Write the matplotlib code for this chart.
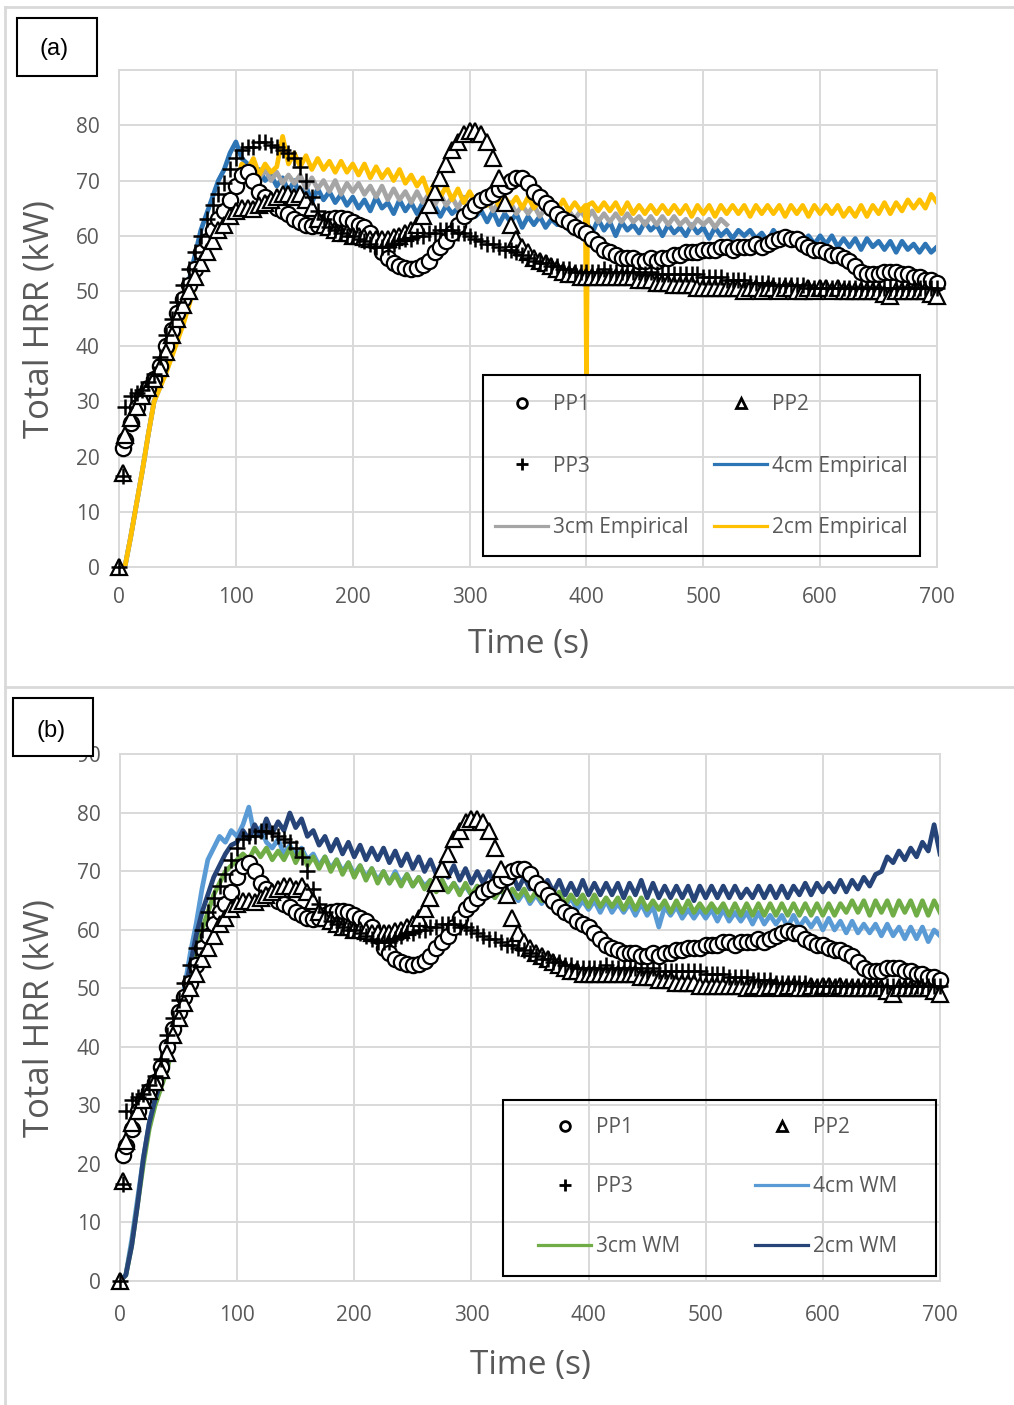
import numpy as np
import matplotlib
matplotlib.use('Agg')
import matplotlib.pyplot as plt
from matplotlib.lines import Line2D
from matplotlib.patches import Rectangle

nan = np.nan

# time axes (s)
t_pp = [0, 3] + list(range(5, 705, 5))
t_line = list(range(0, 705, 5))
t_gray = list(range(0, 525, 5))
t_yellow = list(range(0, 400, 5)) + [399, 400, 401] + list(range(405, 705, 5))

# measured HRR (kW), same in both panels
pp1 = [nan, 21.5,
       23, 26, 29, 31, 32.5, 34, 36.5, 40, 43, 46,
       48.5, 51, 54, 57, 59, 61, 63, 64.5, 66.5, 69,
       71, 71.5, 70, 68, 67, 66, 65, 64.5, 64, 63,
       62.5, 62, 61.8, 62, 62.5, 63, 63.3, 63.3, 63, 62.5,
       62, 61.5, 60.5, 59, 57, 56, 55, 54.5, 54.2, 54,
       54.2, 54.7, 55.5, 57, 58, 59, 60.5, 62, 63.5, 64.5,
       65.5, 66.5, 67, 67.5, 68.5, 69, 70, 70.5, 70.5, 69.5,
       68, 67, 66, 65, 64, 63, 62.5, 61.5, 61, 60.5,
       59.5, 58.5, 57.5, 57, 56.5, 56, 56, 56, 55.5, 55.5,
       56, 55.5, 56, 56, 56.5, 56.5, 57, 57, 57, 57.5,
       57.5, 57.5, 58, 58, 57.5, 58, 58, 58, 58.5, 58,
       58.5, 59, 59.5, 59.8, 59.5, 59.5, 58.5, 58, 57.5, 57.5,
       57, 56.5, 56.5, 56, 55.5, 54.5, 53.5, 53, 53, 53,
       53.5, 53.5, 53.5, 53, 53, 52.5, 52.5, 52, 52, 51.5]
pp2 = [0, 17,
       24, 27, 29, 31, 32.5, 34, 36, 39, 42, 45,
       47.5, 50, 52.5, 55, 57, 59, 61, 62, 63.5, 64.5,
       65, 65, 64.8, 65.5, 66, 66.5, 67, 67.5, 67.5, 67,
       67.5, 66.5, 65, 63, 62, 61.5, 61, 60.5, 60.5, 60,
       60, 59.8, 59.5, 59.5, 59.5, 59.5, 59.8, 60, 60.5, 61,
       62, 63.5, 65.5, 68, 70.5, 73, 75.5, 77, 78.5, 79,
       79, 78.5, 77, 74, 70.5, 66, 62, 59.5, 58, 57,
       56, 55.5, 55, 54.5, 54, 53.5, 53, 53, 52.5, 52.5,
       52.5, 52.5, 52.5, 52.5, 52.5, 52.5, 52.5, 52.5, 52, 52,
       52, 51.5, 51.5, 51.5, 51, 51, 51, 51, 50.5, 50.5,
       50.5, 50.5, 50.5, 50.5, 50.5, 50.5, 50, 50.5, 50.5, 50,
       50.5, 50.5, 50, 50.5, 50.5, 50, 50, 50.5, 50, 50.5,
       50.5, 50, 50.5, 50, 50, 50, 50, 50, 50, 50,
       49.5, 49, 50, 50, 50, 50, 50, 50, 49.5, 49]
pp3 = [0, 16.5,
       29, 31, 31.5, 32, 33.5, 35, 38, 42, 45, 48,
       51, 54, 57, 60, 63, 65.5, 67.5, 69.5, 72, 74,
       75.5, 76, 76, 77, 77, 76.5, 76, 75.5, 75, 74,
       72.5, 70, 67, 64.5, 63, 61.5, 61, 60.5, 60, 60,
       59.5, 59, 58.5, 58, 58, 58, 58.5, 59, 59.5, 59.5,
       60, 60, 60.5, 60.5, 61, 61, 61, 60.5, 60.5, 60,
       59.5, 59, 58.5, 58.5, 58, 57.5, 57.5, 57, 56.5, 56,
       55.5, 55, 55, 54.5, 54.5, 54, 54, 53.5, 53.5, 53.5,
       53.5, 53.5, 54, 53.5, 53.5, 53.5, 53.5, 53.5, 53.5, 53,
       53.5, 53, 53, 53, 53, 53, 53, 53, 53, 52.5,
       52.5, 52.5, 52.5, 52, 52, 52, 52, 51.5, 51.5, 51.5,
       51.5, 51, 51, 51, 51, 51, 51, 50.5, 50.5, 50.5,
       50.5, 50.5, 50.5, 50.5, 50.5, 50.5, 50.5, 50.5, 50.5, 50.5,
       50.5, 50.5, 50.5, 50.5, 50.5, 50.5, 50.5, 50.5, 50.5, 50.5]

# (a) empirical models
emp4 = [0, 0, 5.5, 11.5, 17.5, 24, 30, 33, 36, 39.5,
        44, 48, 52, 56.5, 61, 64, 67, 70, 72, 75,
        77, 74, 73, 71, 72, 70, 71, 69, 70.5, 68,
        70, 67, 69, 66, 68.5, 66.5, 68, 66, 67.5, 65.5,
        67, 65, 66.5, 64.5, 67, 65, 66, 64, 66.5, 64.5,
        66, 64, 66, 64.5, 65.5, 63.5, 65.5, 64, 65, 63,
        65, 63.5, 64.5, 62.5, 64.5, 62, 64, 62.5, 64, 61.5,
        63.5, 62, 63.5, 61.5, 63, 62, 63.5, 61, 63, 61.5,
        62.5, 60.5, 63, 61, 62.5, 60, 62.5, 61, 62, 60.5,
        62.5, 61, 62, 60, 62, 60.5, 61.5, 60, 62, 60.5,
        61.5, 59.5, 61.5, 60, 61, 59.5, 61, 60, 61, 59.5,
        60.5, 59, 61, 59.5, 60.5, 59, 60.5, 59, 60, 58.5,
        60, 58.5, 60, 58, 59.5, 58, 59.5, 57.5, 59.5, 58,
        59, 57.5, 59, 57, 59, 57.5, 58.5, 57, 58.5, 57,
        58]
emp3 = [0, 0, 5.5, 11.5, 17.5, 24, 30, 32.5, 35.5, 38.5,
        41.5, 45, 48.5, 52, 55, 58, 61, 63.5, 65.5, 67.5,
        70, 72, 71, 72.5, 70.5, 72, 70, 71.5, 69.5, 71,
        69.5, 71, 68.5, 70.5, 68.5, 70, 68, 70, 67.5, 69.5,
        68, 69.5, 67.5, 69, 67, 69, 66.5, 68.5, 66.5, 68,
        66, 68, 66, 67.5, 65.5, 67.5, 65.5, 67, 65, 67,
        65, 66.5, 65, 66.5, 64.5, 66, 64.5, 66, 64, 65.5,
        64, 65.5, 63.5, 65, 63.5, 65, 63, 64.5, 63, 64.5,
        63, 64.5, 62.5, 64, 62.5, 64, 62.5, 64, 62.5, 63.5,
        62, 63.5, 62, 63.5, 62, 63.5, 62, 63, 61.5, 63,
        62, 63, 61.5, 63, 62]
emp2 = [0, 0, 5.5, 11.5, 17.5, 24, 30, 32.5, 35, 38,
        41, 44, 47.5, 51, 54.5, 57, 60, 62, 64.5, 66.5,
        69, 73, 72, 74, 71, 73, 71.5, 72.5, 78, 73,
        75, 72.5, 74.5, 72, 74, 72, 73.5, 71.5, 73.5, 71.5,
        73, 71, 73, 70.5, 72.5, 70.5, 72, 70, 72, 69.5,
        71, 69, 70.5, 67.5, 69.5, 67, 69, 66.5, 68.5, 66,
        68, 66, 67.5, 65.5, 67.5, 65.5, 67, 65.5, 67, 65,
        67, 65, 66.5, 65, 66.5, 64.5, 66.5, 64.5, 66, 64.5,
        65.5, 35, 65.5,
        66, 64.5, 66, 64.5, 66, 64, 66, 64, 65.5,
        64, 65.5, 64, 65.5, 64, 65.5, 64, 65.5, 63.5, 65.5,
        64, 65.5, 63.5, 65.5, 64, 65.5, 64, 65.5, 63.5, 65.5,
        64, 65.5, 64, 65.5, 63.5, 65.5, 64, 65.5, 63.5, 65.5,
        64, 65.5, 64, 65.5, 63.5, 65, 63.5, 65.5, 63.5, 65.5,
        64, 66, 64, 66, 64.5, 66.5, 65, 66.5, 65, 67.5,
        66]

# (b) WM models
wm4 = [0, 1, 7, 14, 21, 27, 31, 34, 37, 41,
       45, 50, 56, 61, 67, 72, 74, 76, 75, 77,
       76, 78, 81, 76, 77.5, 75, 74, 75.5, 73, 74.5,
       72.5, 74, 72, 73, 71, 72.5, 70.5, 72, 70, 71.5,
       69.5, 71, 69, 70.5, 68.5, 70, 68, 70, 68, 69.5,
       67.5, 69, 67.5, 68.5, 67, 68.5, 66.5, 68, 66.5, 67.5,
       66, 67.5, 65.5, 67, 65.5, 67, 65, 66.5, 65, 66.5,
       64.5, 66, 64.5, 66, 64, 65.5, 64, 65.5, 63.5, 65,
       63.5, 65, 63, 65, 63, 64.5, 63, 64.5, 62.5, 64.5,
       62.5, 64, 60.5, 64, 62.5, 64, 62, 63.5, 62, 63.5,
       62, 63.5, 61.5, 63.5, 61.5, 63, 61.5, 63, 61, 63,
       61, 62.5, 61, 62.5, 60.5, 62.5, 60.5, 62, 60.5, 62,
       60, 62, 60, 61.5, 59.5, 61.5, 59.5, 61, 59.5, 61,
       59, 61, 59, 60.5, 58.5, 60.5, 58.5, 60.5, 58, 60,
       59]
wm3 = [0, 1, 6, 13, 20, 26, 30, 33, 36, 40,
       44, 48, 52, 56, 60, 63, 66, 68, 70, 71,
       72, 73, 72, 74, 72.5, 74, 72, 73.5, 72, 74,
       71.5, 73.5, 71, 72.5, 70.5, 72.5, 70, 72, 69.5, 71.5,
       69, 71, 68.5, 70.5, 68, 70, 68, 69.5, 67.5, 69.5,
       67.5, 69, 67, 68.5, 66.5, 68.5, 66.5, 68, 66, 68,
       66, 67.5, 66, 67.5, 65.5, 67, 65.5, 67, 65.5, 67,
       65, 66.5, 65, 66.5, 64.5, 66.5, 64.5, 66, 64.5, 66,
       64, 66, 64, 65.5, 64, 65.5, 63.5, 65.5, 63.5, 65.5,
       63.5, 65, 63.5, 65, 63, 65, 63, 65, 63, 64.5,
       63, 64.5, 63, 64.5, 62.5, 64.5, 62.5, 64.5, 62.5, 64.5,
       62.5, 64.5, 62.5, 64.5, 62.5, 64.5, 62.5, 64.5, 62.5, 64.5,
       62.5, 64.5, 62.5, 64.5, 63, 65, 63, 65, 62.5, 65,
       63, 65, 62.5, 65, 63, 65, 62.5, 65, 62.5, 65,
       63]
wm2 = [0, 1, 6, 13, 21, 27, 31, 34, 37, 41,
       45, 49, 54, 59, 63, 66, 69, 71, 73, 74.5,
       75, 77, 75.5, 78, 76, 79, 76.5, 78.5, 77, 80,
       77.5, 79, 76, 77, 74.5, 76, 73.5, 75.5, 73, 75,
       72.5, 74.5, 72, 74, 72, 74, 71.5, 73.5, 71, 73,
       70.5, 72.5, 70, 72, 69.5, 71.5, 69, 71, 68.5, 70.5,
       68, 70, 68, 70, 67.5, 69.5, 67.5, 69.5, 67, 69,
       67, 69, 66.5, 68.5, 66.5, 68.5, 66, 68, 66, 68.5,
       66, 68, 66, 68, 66, 68, 65.5, 68, 66, 68.5,
       65.5, 68, 65.5, 67.5, 65.5, 67.5, 65.5, 67.5, 65, 67.5,
       65.5, 67.5, 65.5, 67.5, 65.5, 67.5, 65.5, 67, 65.5, 67.5,
       65.5, 67.5, 65.5, 67.5, 65.5, 67.5, 66, 68, 66, 68,
       66.5, 68, 66.5, 68.5, 66.5, 68.5, 67, 69, 67.5, 69.5,
       70, 72.5, 71.5, 73.5, 72, 74, 72.5, 75, 73.5, 78,
       73]

x_ticks = [0, 100, 200, 300, 400, 500, 600, 700]
y_ticks = [0, 10, 20, 30, 40, 50, 60, 70, 80, 90]

GRID = '#D9D9D9'
TXT = '#595959'


def draw_panel(ax, models, names, legend_pos, xpad, lab_sp):
    # model curves under the markers
    for (t, v, c) in models:
        ax.plot(t, v, color=c, lw=3.4, zorder=2)
    ax.plot(t_pp, pp1, ls='none', marker='o', ms=11, mfc='white', mec='black', mew=1.6,
            clip_on=False, zorder=3)
    ax.plot(t_pp, pp2, ls='none', marker='^', ms=11, mfc='white', mec='black', mew=1.6,
            clip_on=False, zorder=3)
    ax.plot(t_pp, pp3, ls='none', marker='+', ms=11, color='black', mew=1.8,
            clip_on=False, zorder=3)

    ax.set_xlim(0, 700)
    ax.set_ylim(0, 90)
    ax.set_xticks(x_ticks)
    ax.set_yticks(y_ticks)
    ax.grid(True, color=GRID, lw=1.4, zorder=0)
    ax.set_axisbelow(True)
    for s in ax.spines.values():
        s.set_color(GRID)
        s.set_linewidth(1.4)
    ax.tick_params(length=0, labelsize=15, labelcolor=TXT)
    ax.tick_params(axis='y', pad=14)
    ax.tick_params(axis='x', pad=xpad)
    ax.set_xlabel('Time (s)', fontsize=24, color=TXT)
    ax.set_ylabel('Total HRR (kW)', fontsize=25, color=TXT)

    # legend, two columns laid out as in the source
    h_pp1 = Line2D([], [], ls='none', marker='o', ms=7, mfc='white', mec='black', mew=2)
    h_pp2 = Line2D([], [], ls='none', marker='^', ms=7, mfc='white', mec='black', mew=2)
    h_pp3 = Line2D([], [], ls='none', marker='+', ms=8, color='black', mew=2)
    h4 = Line2D([], [], color=models[0][2], lw=2.3)
    h3 = Line2D([], [], color=models[1][2], lw=2.3)
    h2 = Line2D([], [], color=models[2][2], lw=2.3)
    x1, x2, ymid, frame = legend_pos
    kw = dict(loc='center left', frameon=False, borderpad=0, borderaxespad=0, fontsize=15,
              handlelength=2.55, handletextpad=0.25, labelspacing=lab_sp, labelcolor=TXT)
    leg1 = ax.legend([h_pp1, h_pp3, h3], ['PP1', 'PP3', names[1]],
                     bbox_to_anchor=(x1, ymid), **kw)
    ax.add_artist(leg1)
    ax.legend([h_pp2, h4, h2], ['PP2', names[0], names[2]],
              bbox_to_anchor=(x2, ymid), **kw)
    fx0, fy0, fx1, fy1 = frame
    ax.add_patch(Rectangle((fx0, fy0), fx1 - fx0, fy1 - fy0, transform=ax.transAxes,
                           fill=False, ec='black', lw=1.5, clip_on=False, zorder=6))


if __name__ == '__main__':
    plt.rcParams['font.family'] = ['Open Sans', 'DejaVu Sans']
    fig = plt.figure(figsize=(10.14, 14.05), dpi=100)

    ax_a = fig.add_axes([0.1174, 0.5964, 0.8067, 0.3537])
    ax_b = fig.add_axes([0.1183, 0.0883, 0.8087, 0.3747])

    draw_panel(ax_a,
               [(t_line, emp4, '#2E75B6'), (t_gray, emp3, '#A5A5A5'), (t_yellow, emp2, '#FFC000')],
               ['4cm Empirical', '3cm Empirical', '2cm Empirical'],
               (0.4597, 0.7274, 0.2032, (0.445, 0.0221, 0.9792, 0.3863)), 14, 1.95)
    draw_panel(ax_b,
               [(t_line, wm4, '#5B9BD5'), (t_line, wm3, '#70AD47'), (t_line, wm2, '#264478')],
               ['4cm WM', '3cm WM', '2cm WM'],
               (0.5098, 0.7744, 0.1785, (0.467, 0.0095, 0.9951, 0.3438)), 17, 1.85)

    # the 90 label of (a) sits behind the tag box
    ax_a.set_yticklabels(['0', '10', '20', '30', '40', '50', '60', '70', '80', ''])

    ax_a.xaxis.set_label_coords(0.5, -0.123)
    ax_b.xaxis.set_label_coords(0.5, -0.129)
    ax_a.yaxis.set_label_coords(-0.076, 0.5)
    ax_b.yaxis.set_label_coords(-0.077, 0.5)

    # chart area borders
    for xs, ys in [([0.0049, 0.0049], [0.995, 0.0]),
                   ([0.0049, 1.0], [0.995, 0.995]),
                   ([0.0049, 1.0], [0.511, 0.511])]:
        fig.add_artist(Line2D(xs, ys, transform=fig.transFigure, color=GRID, lw=2))

    # panel tags
    for (x0, y0, tx, ty, s) in [(0.01677, 0.94591, 0.0533, 0.9651, '(a)'),
                                (0.01282, 0.46192, 0.0503, 0.4797, '(b)')]:
        fig.patches.append(Rectangle((x0, y0), 0.0789, 0.04128, transform=fig.transFigure,
                                     fc='white', ec='black', lw=1.5, zorder=10))
        fig.text(tx, ty, s, fontsize=17, family=['Liberation Sans', 'DejaVu Sans'],
                 ha='center', va='center', zorder=11)

    plt.savefig('out.png', dpi=100)
